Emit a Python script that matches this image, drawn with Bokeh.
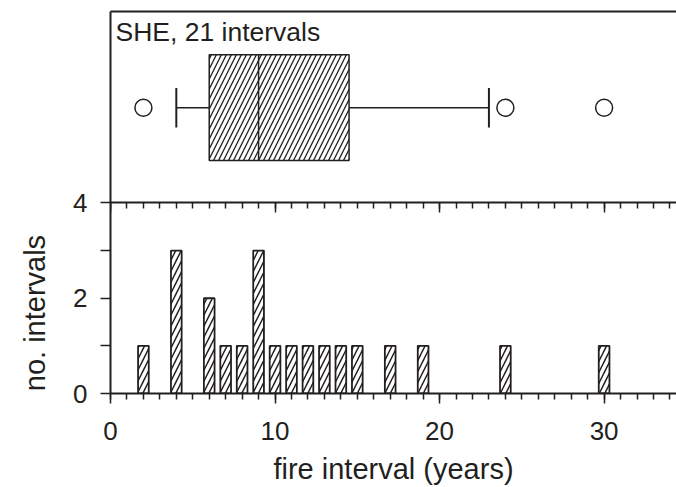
import math
from bokeh.plotting import figure
from bokeh.models import Range1d, LinearAxis, FixedTicker, Label
from bokeh.embed import file_html
from bokeh.resources import INLINE

# ---- data ----
hist_years = [2, 4, 6, 7, 8, 9, 10, 11, 12, 13, 14, 15, 17, 19, 24, 30]
hist_counts = [1, 3, 2, 1, 1, 3, 1, 1, 1, 1, 1, 1, 1, 1, 1, 1]

box_q1 = 6
box_median = 9
box_q3 = 14.5
whisker_low = 4
whisker_high = 23
outliers = [2, 24, 30]

x_major_ticks = [0, 10, 20, 30]
x_minor_ticks = list(range(0, 35))
y_major_ticks = [0, 2, 4]
y_minor_ticks = [1, 3]

title_text = "SHE, 21 intervals"
x_label = "fire interval (years)"
y_label = "no. intervals"

# ---- style / layout constants ----
INK = "#231f20"
FONT = "Liberation Sans"
TICK_FS = "26px"
LABEL_FS = "29px"
HIST_TOP = 4        # top of the histogram panel (count units)
PANEL_TOP = 8.02    # top of the box-plot panel
Y_TITLE_END = 3.33  # where the (rotated) y-axis title ends
BOX_Y = 6.0
BOX_H = 2.22
CAP_H = 0.83

p = figure(width=676, height=487,
           x_range=Range1d(0, 34.4), y_range=Range1d(0, PANEL_TOP),
           output_backend="svg", toolbar_location=None,
           x_axis_location=None, y_axis_location=None,
           min_border_left=110, min_border_right=0,
           min_border_top=11, min_border_bottom=93,
           outline_line_color=None, background_fill_color="white",
           border_fill_color="white")
p.grid.visible = False

tick_style = dict(axis_line_color=INK, axis_line_width=2,
                  major_tick_line_color=INK, major_tick_line_width=1.5,
                  minor_tick_line_color=INK, minor_tick_line_width=1.5)

# top border of the box-plot panel
top_line = LinearAxis(ticker=FixedTicker(ticks=[]),
                      major_tick_in=0, major_tick_out=0,
                      minor_tick_in=0, minor_tick_out=0,
                      major_label_standoff=0, **tick_style)
p.add_layout(top_line, "above")

# separating axis between the two panels (ticks pointing down)
mid_axis = LinearAxis(ticker=FixedTicker(ticks=x_major_ticks, minor_ticks=x_minor_ticks),
                      fixed_location=HIST_TOP,
                      major_tick_in=10, major_tick_out=0,
                      minor_tick_in=6, minor_tick_out=0,
                      major_label_standoff=0,
                      major_label_overrides={t: "" for t in x_major_ticks},
                      major_label_text_font_size="1px", **tick_style)
p.add_layout(mid_axis, "above")

# bottom x axis
xb = LinearAxis(ticker=FixedTicker(ticks=x_major_ticks, minor_ticks=x_minor_ticks),
                axis_label=x_label,
                major_tick_in=0, major_tick_out=10,
                minor_tick_in=0, minor_tick_out=6,
                major_label_standoff=18, axis_label_standoff=10,
                major_label_text_font=FONT, major_label_text_font_size=TICK_FS,
                major_label_text_color=INK,
                axis_label_text_font=FONT, axis_label_text_font_size=LABEL_FS,
                axis_label_text_font_style="normal", axis_label_text_color=INK,
                **tick_style)
p.add_layout(xb, "below")

# left y axis (continuous line through both panels, ticks 0..4)
yl = LinearAxis(ticker=FixedTicker(ticks=y_major_ticks, minor_ticks=y_minor_ticks),
                major_tick_in=0, major_tick_out=10,
                minor_tick_in=0, minor_tick_out=10,
                major_label_standoff=13,
                major_label_text_font=FONT, major_label_text_font_size=TICK_FS,
                major_label_text_color=INK, **tick_style)
p.add_layout(yl, "left")

# y-axis title, placed along the histogram panel (outer, line-less axis)
y_title_axis = LinearAxis(ticker=FixedTicker(ticks=[Y_TITLE_END]),
                          major_label_overrides={Y_TITLE_END: y_label},
                          major_label_orientation=math.pi / 2,
                          major_tick_in=0, major_tick_out=0,
                          minor_tick_in=0, minor_tick_out=0,
                          major_label_standoff=35,
                          axis_line_color=None, major_tick_line_color=None,
                          minor_tick_line_color=None,
                          major_label_text_font=FONT,
                          major_label_text_font_size=LABEL_FS,
                          major_label_text_color=INK)
p.add_layout(y_title_axis, "left")

# panel title
p.add_layout(Label(x=0, y=PANEL_TOP, x_offset=5, y_offset=-5, text=title_text,
                   text_font=FONT, text_font_size="26.5px", text_color=INK,
                   text_baseline="top", text_align="left"))

# ---- box plot ----
p.hbar(y=[BOX_Y], left=[box_q1], right=[box_q3], height=BOX_H,
       fill_color="white", line_color=INK, line_width=1.5,
       hatch_pattern="/", hatch_scale=10, hatch_weight=1.3, hatch_color=INK)
p.segment(x0=[box_median], x1=[box_median],
          y0=[BOX_Y - BOX_H / 2], y1=[BOX_Y + BOX_H / 2],
          line_color=INK, line_width=1.5)
p.segment(x0=[whisker_low, box_q3], x1=[box_q1, whisker_high],
          y0=[BOX_Y, BOX_Y], y1=[BOX_Y, BOX_Y],
          line_color=INK, line_width=1.5)
p.segment(x0=[whisker_low, whisker_high], x1=[whisker_low, whisker_high],
          y0=[BOX_Y - CAP_H / 2] * 2, y1=[BOX_Y + CAP_H / 2] * 2,
          line_color=INK, line_width=2)
p.scatter(x=outliers, y=[BOX_Y] * len(outliers), size=17, marker="circle",
          fill_color="white", line_color=INK, line_width=1.5)

# ---- histogram ----
p.vbar(x=hist_years, top=hist_counts, width=0.65, bottom=0,
       fill_color="white", line_color=INK, line_width=1.8,
       hatch_pattern="/", hatch_scale=11, hatch_weight=1.5, hatch_color=INK)

open("out.html", "w").write(file_html(p, INLINE))
